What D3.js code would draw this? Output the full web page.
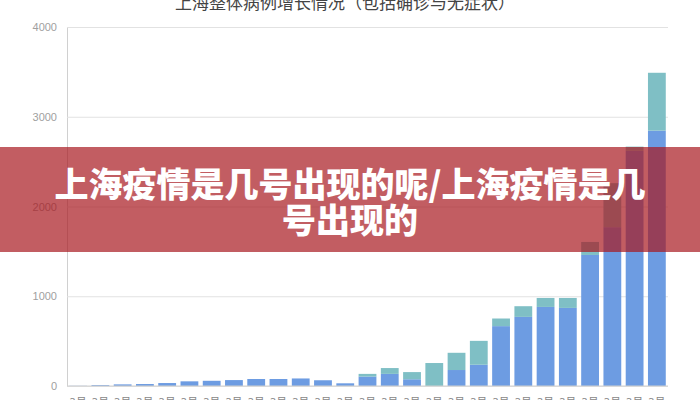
<!DOCTYPE html>
<html><head><meta charset="utf-8">
<script src="https://cdn.jsdelivr.net/npm/d3@7"></script>
<style>
html,body{margin:0;padding:0;background:#fff;overflow:hidden;}
svg{display:block;font-family:"Noto Sans CJK SC","Noto Sans",sans-serif;}
</style></head>
<body>
<svg id="c" width="700" height="400"></svg>
<script>
const title = "上海整体病例增长情况（包括确诊与无症状）";
const categories = ["3月1日","3月2日","3月3日","3月4日","3月5日","3月6日","3月7日","3月8日","3月9日","3月10日","3月11日","3月12日","3月13日","3月14日","3月15日","3月16日","3月17日","3月18日","3月19日","3月20日","3月21日","3月22日","3月23日","3月24日","3月25日","3月26日","3月27日"];
const seriesBlue = [2,10,18,22,33,52,58,66,78,78,84,64,30,105,135,75,0,178,237,667,770,881,870,1460,1770,2620,2845];
const seriesTeal = [0,0,0,0,0,0,0,0,0,0,0,0,0,30,65,80,256,192,266,85,119,100,111,145,490,47,645];
const yTicks = [0,1000,2000,3000,4000];
const bannerLines = ["上海疫情是几号出现的呢/上海疫情是几","号出现的"];

const svg = d3.select("#c");
const mLeft = 67, mRight = 668, mTop = 27, mBottom = 386;
const x = d3.scaleBand().domain(categories).range([mLeft, mRight]).paddingInner(0.2).paddingOuter(0.1);
const y = d3.scaleLinear().domain([0, 4000]).range([mBottom, mTop]);

// title
svg.append("text").attr("x", 345).attr("y", 9).attr("text-anchor", "middle")
  .attr("font-size", 17).attr("fill", "#444").text(title);

// grid
const yAxis = d3.axisLeft(y).tickValues(yTicks).tickSize(-(mRight - mLeft)).tickFormat(d3.format("d")).tickPadding(10);
const gy = svg.append("g").attr("transform", `translate(${mLeft},0)`).call(yAxis);
gy.select(".domain").attr("stroke", "#d0d0d0");
gy.selectAll(".tick line").attr("stroke", "#e2e2e2");
gy.selectAll(".tick text").attr("fill", "#a0a0a0").attr("font-size", 11).attr("font-family", "Liberation Sans, Arial, sans-serif");

// stacked bars
const rows = categories.map((c, i) => ({cat: c, blue: seriesBlue[i], teal: seriesTeal[i]}));
const stack = d3.stack().keys(["blue", "teal"])(rows);
const colors = {blue: "#6d9ce2", teal: "#7fbfc5"};
svg.append("g").selectAll("g").data(stack).join("g")
  .attr("fill", d => colors[d.key])
  .selectAll("rect").data(d => d).join("rect")
  .attr("x", d => x(d.data.cat))
  .attr("width", x.bandwidth())
  .attr("y", d => y(d[1]))
  .attr("height", d => Math.max(0, y(d[0]) - y(d[1])));

// baseline
svg.append("line").attr("x1", mLeft).attr("x2", mRight).attr("y1", mBottom).attr("y2", mBottom).attr("stroke", "#d0d0d0");

// x labels
const xl = svg.append("g").selectAll("text").data(categories).join("text")
  .attr("x", d => x(d) + x.bandwidth() / 2).attr("y", 406)
  .attr("text-anchor", "middle").attr("font-size", 11).attr("fill", "#888");
xl.append("tspan").attr("x", d => x(d) + x.bandwidth() / 2).text(d => d.split("月")[0] + "月");
xl.append("tspan").attr("x", d => x(d) + x.bandwidth() / 2).attr("dy", 13).text(d => d.split("月")[1]);

// banner
svg.append("rect").attr("x", 0).attr("y", 147).attr("width", 700).attr("height", 105)
  .attr("fill", "rgb(168,24,32)").attr("fill-opacity", 0.7);
svg.append("g").selectAll("text").data(bannerLines).join("text")
  .attr("x", 350).attr("y", (d, i) => 197 + i * 36)
  .attr("text-anchor", "middle").attr("font-size", 34).attr("font-weight", 900)
  .attr("fill", "#fff").text(d => d);
</script>
</body></html>
